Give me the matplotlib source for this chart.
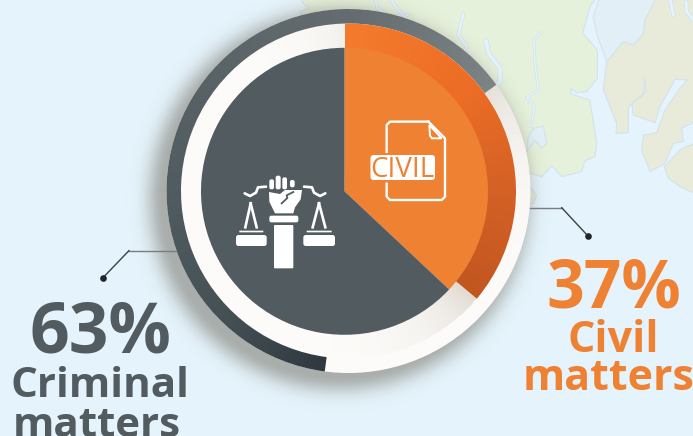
import numpy as np
import matplotlib
matplotlib.use("Agg")
import matplotlib.pyplot as plt
from matplotlib.patches import Circle, Polygon, FancyBboxPatch
from matplotlib.colors import to_rgb

categories = ["Civil", "Criminal"]
shares = [37, 63]
label_lines = {"Civil": ["Civil", "matters"], "Criminal": ["Criminal", "matters"]}

W, H = 693, 436
SEA, GREEN, TAN, LAKE, COAST = "#e5f4fc", "#e6f1dc", "#e9ebda", "#e2eff6", "#d3e3ec"
SLATE, ORANGE = "#525c60", "#ef8133"
plt.rcParams["font.family"] = ["Open Sans", "DejaVu Sans"]

fig = plt.figure(figsize=(W / 100, H / 100), dpi=100, facecolor=SEA)
ax = fig.add_axes([0, 0, 1, 1])
ax.set_facecolor(SEA)

# ---------- background map (traced in zoom coordinates of the right area)
def z(pts):
    return [(480 + a / 3, b / 3) for a, b in pts]

green = [(300, -2), (304, 4), (309, 8), (300, 12), (340, 120)] + z([(70, 560), (150, 520), (185, 530), (215, 498), (245, 530), (305, 515),
         (315, 482), (345, 470), (350, 430), (330, 300), (290, 288), (272, 280), (272, 265), (290, 278), (320, 275), (352, 235),
         (352, 150), (308, 100), (330, 20), (345, -2)])
tan1 = z([(380, 185), (370, 270), (410, 370), (408, 400), (445, 398), (445, 320), (498, 275), (495, 235), (488, 285), (455, 310),
          (460, 345), (525, 368), (540, 320), (585, 238), (622, 240), (600, 265), (555, 330), (530, 398), (490, 405), (485, 450),
          (510, 515), (555, 490), (580, 430), (610, 425), (605, 385), (645, 365), (645, -5), (525, -5), (495, 60), (490, 100),
          (460, 135), (430, 125)])
tan2 = z([(553, 500), (600, 450), (620, 440), (645, 430), (645, 580), (600, 560), (565, 535)])
lake = z([(340, 50), (358, -5), (528, -5), (495, 60), (490, 100), (460, 135), (430, 125), (380, 185), (350, 100)])
island = z([(150, 560), (170, 585), (160, 610), (140, 610)])
for pts, col in [(green, GREEN), (tan1, TAN), (tan2, TAN), (lake, LAKE), (island, GREEN)]:
    ax.add_patch(Polygon(pts, closed=True, fc=col, ec=COAST, lw=0.8, zorder=1))
ax.add_patch(Polygon(z([(160, 385), (190, 378), (200, 430), (185, 445), (165, 420), (140, 455), (145, 410)]), closed=True,
                     fc=LAKE, ec=COAST, lw=0.8, zorder=2))
rivers = [
    (z([(18, 122), (25, 160), (60, 205), (60, 245), (40, 265)]), 2.6),
    (z([(183, 98), (162, 120), (165, 190), (175, 270), (140, 293), (165, 320), (152, 380)]), 1.0),
    (z([(640, 60), (620, 35), (618, 5)]), 2.0),
    (z([(570, -5), (580, 45)]), 2.0),
    ([(290 + a / 3, b / 3) for a, b in [(255, -5), (262, 25), (300, 48), (355, 45)]], 1.4),
    ([(290 + a / 3, b / 3) for a, b in [(300, -5), (325, 30), (345, 50)]], 1.4),
    ([(290 + a / 3, b / 3) for a, b in [(520, 42), (505, 105), (530, 140), (510, 180)]], 1.6),
]
for pts, lw in rivers:
    xs, ys = zip(*pts)
    ax.plot(xs, ys, color=COAST, lw=lw + 1.1, zorder=2, solid_capstyle="round")
    ax.plot(xs, ys, color=SEA, lw=lw, zorder=2, solid_capstyle="round")

# ---------- soft shadow
CX, CY, R_OUT, R_MID = 348.5, 191, 182, 167.5
gx, gy = np.meshgrid(np.arange(0, W, 1.0) + .5, np.arange(0, H, 1.0) + .5)
d = np.clip(np.hypot(gx - (CX - 9), gy - (CY + 9)) - (R_OUT - 6), 0, None)
shadow = np.zeros((H, W, 4))
shadow[..., :3] = np.array([110, 105, 92]) / 255
shadow[..., 3] = 0.5 * np.exp(-(d / 17) ** 2)
ax.imshow(shadow, extent=(0, W, H, 0), zorder=3, aspect="auto", interpolation="bilinear")

# ---------- angular colour helper
phi = np.degrees(np.arctan2(gx - CX, -(gy - CY))) % 360
rad = np.hypot(gx - CX, gy - CY)

def angular(stops):
    ang = [s[0] for s in stops]
    cols = np.array([to_rgb(s[1]) for s in stops])
    return np.dstack([np.interp(phi, ang, cols[:, i]) for i in range(3)])

# ---------- white disc with beige fall-off
white = np.array(to_rgb("#fdfcfa"))
beige = np.array(to_rgb("#e2dcd4"))
s = np.where(rad > R_MID,
             np.exp(-np.clip(phi - 52, 0, None) / 20) * (phi > 40),
             np.exp(-np.clip(phi - 131, 0, None) / 16) * (phi > 120) + 0.45 * np.exp(-(360 - phi) / 12))
s = np.clip(s, 0, 1)[..., None]
disc = ax.imshow(white * (1 - s) + beige * s, extent=(0, W, H, 0), zorder=4, aspect="auto", interpolation="bilinear")
disc.set_clip_path(Circle((CX, CY), R_OUT, transform=ax.transData))

# ---------- outer slate ring: spans the criminal share
ring_g, _ = ax.pie(shares[::-1], center=(CX, CY), radius=R_OUT, startangle=187.5 - 90, counterclock=True,
                   colors=["none", "none"], wedgeprops=dict(width=R_OUT - R_MID, linewidth=0))
grey_img = angular([(0, "#646c6f"), (55, "#7d8486"), (187, "#2e383e"), (225, "#465156"), (270, "#515c60"), (360, "#646c6f")])
im = ax.imshow(grey_img, extent=(0, W, H, 0), zorder=5, aspect="auto", interpolation="bilinear")
im.set_clip_path(ring_g[0])

# ---------- orange ring: spans the civil share
ring_o, _ = ax.pie(shares, center=(CX, CY), radius=R_MID, startangle=-3.2 - 90, counterclock=True,
                   colors=["none", "none"], wedgeprops=dict(linewidth=0))
o_rgb = angular([(0, "#f47b2d"), (50, "#ec6d25"), (90, "#d46126"), (135, "#bf551f"), (360, "#f47b2d")])
im = ax.imshow(o_rgb[:, 345:], extent=(345, W, H, 0), zorder=6, aspect="auto", interpolation="bilinear")
im.set_clip_path(ring_o[0])

# ---------- main pie
main, _ = ax.pie(shares, center=(344.5, 191.3), radius=143.5, startangle=-90, counterclock=True,
                 colors=[ORANGE, SLATE], wedgeprops=dict(linewidth=0))
for w in main:
    w.set_zorder(7)

# ---------- icons
ICON = 8
def rbox(x0, y0, x1, y1, r, fc="white", ec="none", lw=0, zo=ICON):
    ax.add_patch(FancyBboxPatch((x0 + r, y0 + r), x1 - x0 - 2 * r, y1 - y0 - 2 * r, boxstyle=f"round,pad={r}",
                                fc=fc, ec=ec, lw=lw, zorder=zo))

def j(pts):
    return [(230 + a / 3, 170 + b / 3) for a, b in pts]

def jbox(a0, b0, a1, b1, r):
    rbox(230 + a0 / 3, 170 + b0 / 3, 230 + a1 / 3, 170 + b1 / 3, r)

jbox(132, 165, 190, 295, 1)
jbox(118, 137, 205, 157, 2)
for a0, b0, a1, b1 in [(118, 28, 132, 58), (137, 17, 152, 58), (157, 22, 171, 58), (180, 30, 194, 52)]:
    jbox(a0, b0, a1, b1, 2)
ax.add_patch(Polygon(j([(117, 66), (150, 72), (165, 60), (216, 60), (212, 88), (195, 112), (190, 130), (135, 130), (118, 95)]),
                     closed=True, fc="white", ec="none", zorder=ICON))
xs, ys = zip(*j([(190, 66), (170, 76), (172, 84), (155, 100)]))
ax.plot(xs, ys, color=SLATE, lw=1.3, zorder=ICON + 1)
for mirror, (pan0, pan1), top, foot0, foot1 in [
    (False, (18, 110), 62, 46, 80),
    (True, (220, 315), 267, 248, 286),
]:
    jbox(pan0, 195, pan1, 228, 2.5)
    jbox(pan0 + 10, 182, pan1 - 10, 187, 0.3)
    for f in (foot0, foot1):
        xs, ys = zip(*j([(top, 100), (f, 172)]))
        ax.plot(xs, ys, color="white", lw=1.9, zorder=ICON)
    arm = [(108, 50), (84, 52), (78, 68), (60, 78), (44, 70)]
    if mirror:
        arm = [(330 - a, b) for a, b in arm]
    xs, ys = zip(*j(arm))
    ax.plot(xs, ys, color="white", lw=1.9, zorder=ICON, solid_capstyle="round")

def c(pts):
    return [(360 + a / 3, 115 + b / 3) for a, b in pts]

doc = c([(205, 20), (90, 20), (80, 30), (80, 245), (90, 255), (245, 255), (255, 245), (255, 70), (205, 20)])
xs, ys = zip(*doc)
ax.plot(xs, ys, color="white", lw=1.7, zorder=ICON, solid_joinstyle="round")
ax.add_patch(Polygon(c([(208, 30), (210, 62), (216, 70), (245, 70)]), closed=True, fc=ORANGE, ec="white", lw=1.4, zorder=ICON))
rbox(369, 153, 436, 182.5, 3.5, fc=ORANGE, zo=ICON + 1)
rbox(370.5, 155, 435, 180, 3.5, zo=ICON + 1)
ax.text(402.5, 176.8, "CIVIL", color=ORANGE, fontsize=20, ha="center", va="baseline", zorder=ICON + 2)

# ---------- leaders
DARK = "#3b4046"
for line, dot in [(((176, 250.6), (129, 250.6), (102.7, 278)), (102.7, 278)),
                  (((530, 207.7), (561.7, 207.7), (588, 236)), (588, 236))]:
    xs, ys = zip(*line)
    ax.plot(xs[:2], ys[:2], color="#7a7d80", lw=1.0, zorder=9)
    ax.plot(xs[1:], ys[1:], color=DARK, lw=1.0, zorder=9)
    ax.plot(*dot, "o", color="#22262b", ms=4.8, mew=0, zorder=9)

# ---------- labels
civil, criminal = shares
ax.text(100, 352.7, f"{criminal}%", color=SLATE, fontsize=50, fontweight="bold", ha="center", va="baseline", zorder=9)
ax.text(100, 396.7, label_lines["Criminal"][0], color=SLATE, fontsize=30.3, fontweight="bold", ha="center", va="baseline", zorder=9)
ax.text(97, 437, label_lines["Criminal"][1], color=SLATE, fontsize=30.3, fontweight="bold", ha="center", va="baseline", zorder=9)
ax.text(613.5, 307, f"{civil}%", color=ORANGE, fontsize=47.5, fontweight="bold", ha="center", va="baseline", zorder=9)
ax.text(613.5, 352.3, label_lines["Civil"][0], color=ORANGE, fontsize=31, fontweight="bold", ha="center", va="baseline", zorder=9)
ax.text(609, 390, label_lines["Civil"][1], color=ORANGE, fontsize=31, fontweight="bold", ha="center", va="baseline", zorder=9)

ax.set_xlim(0, W)
ax.set_ylim(H, 0)
ax.set_aspect("auto")
ax.axis("off")
fig.savefig("out.png", dpi=100, facecolor=SEA)
